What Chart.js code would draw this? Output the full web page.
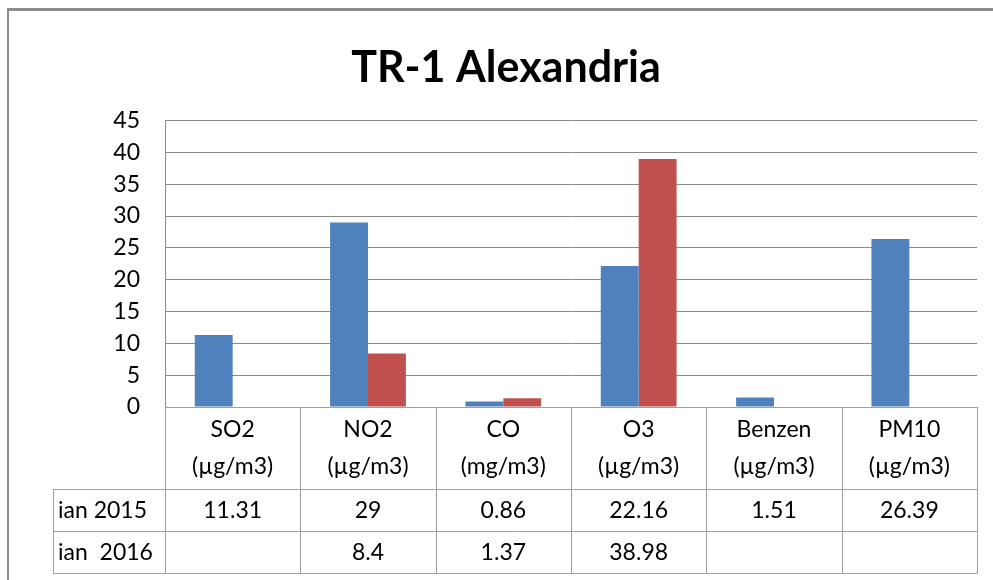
<!DOCTYPE html>
<html>
<head>
<meta charset="utf-8">
<script src="https://cdn.jsdelivr.net/npm/chart.js@4"></script>
<style>
  html, body { margin: 0; padding: 0; background: #fff; overflow: hidden; }
  #wrap { position: relative; width: 993px; height: 580px; }
  #frame {
    position: absolute; left: 7px; top: 8px; width: 1000px; height: 600px;
    border-left: 2px solid #8c8c8c; border-top: 3px solid #8c8c8c;
    box-sizing: border-box;
  }
  canvas { position: absolute; left: 0; top: 0; }
</style>
</head>
<body>
<div id="wrap">
  <div id="frame"></div>
  <canvas id="airChart" width="993" height="580"></canvas>
</div>
<script>
const pollutants = [
  ['SO2', '(µg/m3)'],
  ['NO2', '(µg/m3)'],
  ['CO', '(mg/m3)'],
  ['O3', '(µg/m3)'],
  ['Benzen', '(µg/m3)'],
  ['PM10', '(µg/m3)'],
];
const seriesNames = ['ian 2015', 'ian  2016'];
const jan2015 = [11.31, 29, 0.86, 22.16, 1.51, 26.39];
const jan2016 = [null, 8.4, 1.37, 38.98, null, null];
const yTicks = [0, 5, 10, 15, 20, 25, 30, 35, 40, 45];

const FONT = 'Lato, "Open Sans", sans-serif';
const LINE = '#a0a0a0';
const TEXT_SIZE = 23;

// Excel style data table under the plot
const dataTable = {
  id: 'dataTable',
  afterDraw(chart) {
    const { ctx, chartArea } = chart;
    const x = chart.scales.x;
    const bounds = [chartArea.left];
    for (let i = 0; i < pollutants.length - 1; i += 1) {
      bounds.push((x.getPixelForTick(i) + x.getPixelForTick(i + 1)) / 2);
    }
    bounds.push(chartArea.right);

    const headerBottom = x.bottom;
    const rowH = 42;
    const tableLeft = 53;
    const rows = [jan2015, jan2016];

    ctx.save();
    ctx.strokeStyle = LINE;
    ctx.lineWidth = 1;
    ctx.beginPath();
    // header column lines
    bounds.forEach((b) => {
      const px = Math.round(b) + 0.5;
      ctx.moveTo(px, chartArea.bottom);
      ctx.lineTo(px, headerBottom + rowH * rows.length);
    });
    // row lines
    for (let r = 0; r <= rows.length; r += 1) {
      const py = Math.round(headerBottom + rowH * r) + 0.5;
      ctx.moveTo(tableLeft, py);
      ctx.lineTo(Math.round(chartArea.right) + 0.5, py);
    }
    ctx.moveTo(tableLeft + 0.5, headerBottom);
    ctx.lineTo(tableLeft + 0.5, headerBottom + rowH * rows.length);
    ctx.stroke();

    ctx.fillStyle = '#000';
    ctx.font = `${TEXT_SIZE}px ${FONT}`;
    ctx.textBaseline = 'middle';
    rows.forEach((vals, r) => {
      const cy = headerBottom + rowH * r + rowH / 2 + 1;
      ctx.textAlign = 'left';
      ctx.fillText(seriesNames[r], tableLeft + 5, cy);
      ctx.textAlign = 'center';
      vals.forEach((v, i) => {
        if (v === null) return;
        ctx.fillText(String(v), x.getPixelForTick(i), cy);
      });
    });
    ctx.restore();
  },
};

new Chart(document.getElementById('airChart'), {
  type: 'bar',
  data: {
    labels: pollutants,
    datasets: [
      {
        label: seriesNames[0],
        data: jan2015,
        backgroundColor: '#4f81bd',
        borderWidth: 0,
        categoryPercentage: 0.56,
        barPercentage: 1,
      },
      {
        label: seriesNames[1],
        data: jan2016,
        backgroundColor: '#c0504d',
        borderWidth: 0,
        categoryPercentage: 0.56,
        barPercentage: 1,
      },
    ],
  },
  options: {
    responsive: false,
    animation: false,
    layout: { padding: { left: 35, right: 16, top: 0, bottom: 91 } },
    plugins: {
      legend: { display: false },
      tooltip: { enabled: false },
      title: {
        display: true,
        text: 'TR-1 Alexandria',
        color: '#000',
        font: { family: FONT, size: 43, weight: 'bold', lineHeight: 1.2 },
        padding: { top: 42, bottom: 27 },
      },
    },
    scales: {
      x: {
        afterFit: (scale) => { scale.height = 82; },
        grid: { display: false, drawTicks: false },
        border: { display: true, color: LINE },
        ticks: {
          color: '#000',
          padding: 4,
          maxRotation: 0,
          autoSkip: false,
          font: { family: FONT, size: TEXT_SIZE, lineHeight: 1.61 },
        },
      },
      y: {
        min: 0,
        max: 45,
        afterFit: (scale) => { scale.width = 130; },
        afterBuildTicks: (scale) => { scale.ticks = yTicks.map((v) => ({ value: v })); },
        grid: { color: '#8a8a8a', drawTicks: false },
        border: { display: true, color: '#8a8a8a' },
        ticks: {
          color: '#000',
          padding: 25,
          font: { family: FONT, size: TEXT_SIZE },
        },
      },
    },
  },
  plugins: [dataTable],
});
</script>
</body>
</html>
